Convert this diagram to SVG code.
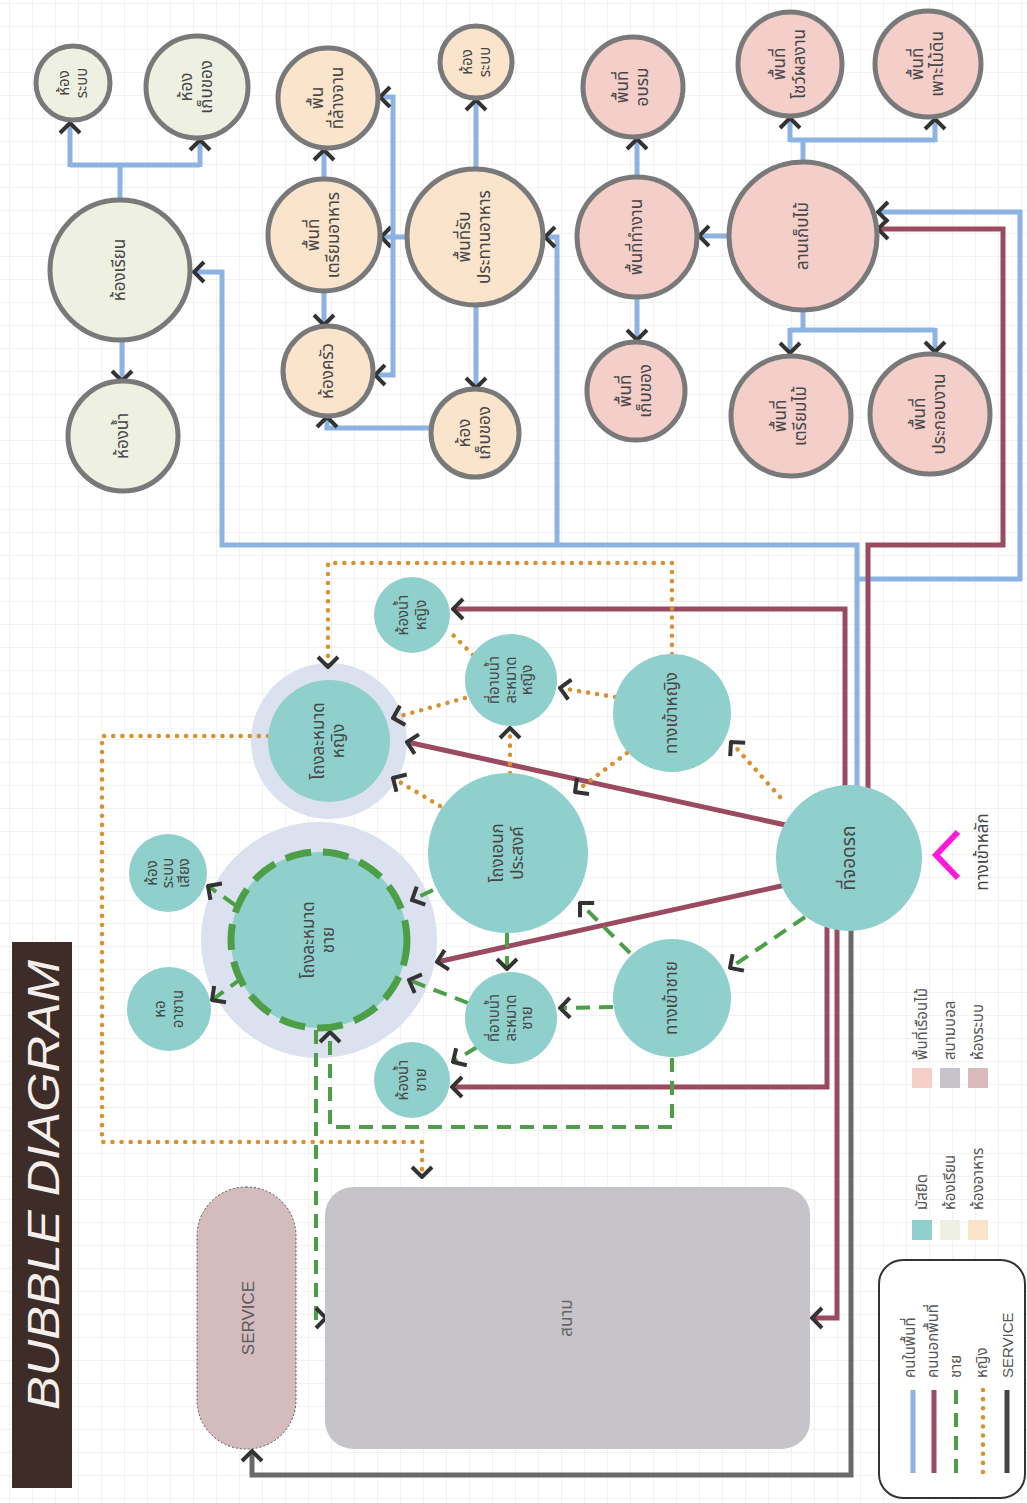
<svg xmlns="http://www.w3.org/2000/svg" width="1027" height="1503" viewBox="0 0 1027 1503">
  <style>
    .lbl { font-family: "Noto Sans Thai", "Noto Sans", "DejaVu Sans", sans-serif; font-size: 17px; fill: #474747; text-anchor: middle; dominant-baseline: central; }
    .sm { font-size: 15px; }
    .lg { font-family: "Noto Sans Thai", "Noto Sans", "DejaVu Sans", sans-serif; font-size: 15px; fill: #555; text-anchor: start; dominant-baseline: central; }
    .n-green { fill: #eef1e2; stroke: #797979; stroke-width: 5; }
    .n-food { fill: #fbe4cc; stroke: #797979; stroke-width: 5; }
    .n-wood { fill: #f4cfca; stroke: #797979; stroke-width: 5; }
    .n-mosque { fill: #8fcfcc; }
    .halo { fill: #dce1f0; }
    .c { fill: none; stroke-linejoin: miter; }
    .c-in { stroke: #8db3e2; stroke-width: 5; }
    .c-out { stroke: #9b4b61; stroke-width: 5; }
    .c-m { stroke: #4c9f46; stroke-width: 4; stroke-dasharray: 14 9; }
    .c-f { stroke: #d9902e; stroke-width: 4.5; stroke-dasharray: 0.1 9; stroke-linecap: round; }
    .c-s { stroke: #6a6a6a; stroke-width: 5; }
    .arr { marker-end: url(#ah); }
  </style>
  <defs>
    <pattern id="grid" width="23" height="23" patternUnits="userSpaceOnUse" patternTransform="translate(9,3)">
      <path d="M23 0 L0 0 0 23" fill="none" stroke="#e6e6e6" stroke-width="1"/>
    </pattern>
    <marker id="ah" viewBox="0 0 14 24" refX="12" refY="12" markerWidth="14" markerHeight="24" markerUnits="userSpaceOnUse" orient="auto">
      <path d="M2,2 L12,12 L2,22" fill="none" stroke="#333" stroke-width="4"/>
    </marker>
  </defs>

  <rect width="1027" height="1503" fill="#ffffff"/>
  <rect width="1027" height="1503" fill="url(#grid)"/>

  <!-- title bar -->
  <g id="title">
    <rect x="12" y="942" width="60" height="546" fill="#3e2c29"/>
    <text transform="translate(43,1185) rotate(-90)" font-family="Liberation Sans, sans-serif" font-style="italic" font-size="44" fill="#f4efea" text-anchor="middle" dominant-baseline="central" textLength="450" lengthAdjust="spacingAndGlyphs">BUBBLE DIAGRAM</text>
  </g>

  <!-- halos behind prayer halls -->
  <circle class="halo" cx="329" cy="741" r="78"/>
  <circle class="halo" cx="319" cy="940" r="118"/>

  <!-- connectors -->
  <g id="connectors">
    <!-- insiders (blue) -->
    <path class="c c-in arr" d="M857 790 L857 545 L222 545 L222 272 L194 272"/>
    <path class="c c-in arr" d="M557 545 L557 237 L545 237"/>
    <path class="c c-in arr" d="M857 579 L1020 579 L1020 212 L878 212"/>
    <path class="c c-in" d="M120 200 L120 165 M70 165 L200 165"/>
    <path class="c c-in arr" d="M70 167 L70 123"/>
    <path class="c c-in arr" d="M200 167 L200 140"/>
    <path class="c c-in arr" d="M122 340 L122 381"/>
    <path class="c c-in arr" d="M407 237 L381 237"/>
    <path class="c c-in arr" d="M393 237 L393 97 L380 97"/>
    <path class="c c-in arr" d="M393 237 L393 375 L375 375"/>
    <path class="c c-in arr" d="M324 179 L324 150"/>
    <path class="c c-in arr" d="M324 291 L324 325"/>
    <path class="c c-in arr" d="M476 170 L476 100"/>
    <path class="c c-in arr" d="M476 305 L476 388"/>
    <path class="c c-in arr" d="M432 428 L327 428 L327 417"/>
    <path class="c c-in" d="M803 162 L803 140 M790 140 L935 140"/>
    <path class="c c-in arr" d="M790 142 L790 118"/>
    <path class="c c-in arr" d="M935 142 L935 119"/>
    <path class="c c-in arr" d="M730 236 L699 236"/>
    <path class="c c-in arr" d="M637 178 L637 139"/>
    <path class="c c-in arr" d="M637 297 L637 340"/>
    <path class="c c-in" d="M803 310 L803 330 M790 330 L935 330"/>
    <path class="c c-in arr" d="M790 328 L790 353"/>
    <path class="c c-in arr" d="M935 328 L935 352"/>

    <!-- outsiders (maroon) -->
    <path class="c c-out arr" d="M790 826 L407 742"/>
    <path class="c c-out arr" d="M790 884 L437 962"/>
    <path class="c c-out arr" d="M827 920 L827 1087 L452 1087"/>
    <path class="c c-out arr" d="M837 925 L837 1318 L812 1318"/>
    <path class="c c-out arr" d="M868 790 L868 545 L1003 545 L1003 229 L878 229"/>
    <path class="c c-out arr" d="M845 790 L845 609 L453 609"/>

    <!-- service -->
    <path class="c c-s arr" d="M851 930 L851 1475 L252 1475 L252 1451"/>

    <!-- men (green dashed) -->
    <path class="c c-m arr" d="M805 917 L730 968"/>
    <path class="c c-m arr" d="M630 953 L580 903"/>
    <path class="c c-m arr" d="M613 1007 L560 1008"/>
    <path class="c c-m arr" d="M477 1047 L453 1062"/>
    <path class="c c-m arr" d="M468 1003 L409 980"/>
    <path class="c c-m arr" d="M507 933 L507 969"/>
    <path class="c c-m arr" d="M433 890 L412 900"/>
    <path class="c c-m arr" d="M242 978 L212 1000"/>
    <path class="c c-m arr" d="M235 905 L208 886"/>
    <path class="c c-m arr" d="M672 1058 L672 1127 L330 1127 L330 1032"/>
    <path class="c c-m arr" d="M316 1030 L316 1318 L326 1318"/>

    <!-- women (orange dotted) -->
    <path class="c c-f arr" d="M780 797 L731 742"/>
    <path class="c c-f arr" d="M615 697 L560 688"/>
    <path class="c c-f arr" d="M627 753 L575 792"/>
    <path class="c c-f" d="M473 655 L450 632"/>
    <path class="c c-f arr" d="M465 698 L393 718"/>
    <path class="c c-f arr" d="M510 773 L510 728"/>
    <path class="c c-f arr" d="M440 806 L393 778"/>
    <path class="c c-f arr" d="M672 654 L672 563 L328 563 L328 667"/>
    <path class="c c-f arr" d="M268 736 L102 736 L102 1142 L422 1142 L422 1177"/>
  </g>

  <!-- classroom zone -->
  <g id="n-sys1"><circle class="n-green" cx="73" cy="83" r="37"/>
    <text class="lbl sm" transform="translate(73,83) rotate(-90)"><tspan x="0" y="-9">ห้อง</tspan><tspan x="0" y="9">ระบบ</tspan></text></g>
  <g id="n-store1"><circle class="n-green" cx="197" cy="87" r="51"/>
    <text class="lbl" transform="translate(197,87) rotate(-90)"><tspan x="0" y="-10">ห้อง</tspan><tspan x="0" y="10">เก็บของ</tspan></text></g>
  <g id="n-class"><circle class="n-green" cx="120" cy="270" r="70"/>
    <text class="lbl" transform="translate(120,270) rotate(-90)">ห้องเรียน</text></g>
  <g id="n-wc"><circle class="n-green" cx="123" cy="436" r="55"/>
    <text class="lbl" transform="translate(123,436) rotate(-90)">ห้องน้ำ</text></g>

  <!-- food zone -->
  <g id="n-wash"><circle class="n-food" cx="328" cy="98" r="50"/>
    <text class="lbl" transform="translate(328,98) rotate(-90)"><tspan x="0" y="-10">พื้น</tspan><tspan x="0" y="10">ที่ล้างจาน</tspan></text></g>
  <g id="n-prep"><circle class="n-food" cx="324" cy="235" r="56"/>
    <text class="lbl" transform="translate(324,235) rotate(-90)"><tspan x="0" y="-10">พื้นที่</tspan><tspan x="0" y="10">เตรียมอาหาร</tspan></text></g>
  <g id="n-kitchen"><circle class="n-food" cx="328" cy="371" r="45"/>
    <text class="lbl" transform="translate(328,371) rotate(-90)">ห้องครัว</text></g>
  <g id="n-sys2"><circle class="n-food" cx="476" cy="62" r="36"/>
    <text class="lbl sm" transform="translate(476,62) rotate(-90)"><tspan x="0" y="-9">ห้อง</tspan><tspan x="0" y="9">ระบบ</tspan></text></g>
  <g id="n-dining"><circle class="n-food" cx="475" cy="237" r="68"/>
    <text class="lbl" transform="translate(475,237) rotate(-90)"><tspan x="0" y="-10">พื้นที่รับ</tspan><tspan x="0" y="10">ประทานอาหาร</tspan></text></g>
  <g id="n-store2"><circle class="n-food" cx="475" cy="433" r="44"/>
    <text class="lbl" transform="translate(475,433) rotate(-90)"><tspan x="0" y="-10">ห้อง</tspan><tspan x="0" y="10">เก็บของ</tspan></text></g>

  <!-- wood workshop zone -->
  <g id="n-train"><circle class="n-wood" cx="633" cy="87" r="50"/>
    <text class="lbl" transform="translate(633,87) rotate(-90)"><tspan x="0" y="-10">พื้นที่</tspan><tspan x="0" y="10">อบรม</tspan></text></g>
  <g id="n-show"><circle class="n-wood" cx="790" cy="64" r="52"/>
    <text class="lbl" transform="translate(790,64) rotate(-90)"><tspan x="0" y="-10">พื้นที่</tspan><tspan x="0" y="10">โชว์ผลงาน</tspan></text></g>
  <g id="n-nursery"><circle class="n-wood" cx="928" cy="64" r="53"/>
    <text class="lbl" transform="translate(928,64) rotate(-90)"><tspan x="0" y="-10">พื้นที่</tspan><tspan x="0" y="10">เพาะไม้ดิน</tspan></text></g>
  <g id="n-work"><circle class="n-wood" cx="637" cy="237" r="60"/>
    <text class="lbl" transform="translate(637,237) rotate(-90)">พื้นที่ทำงาน</text></g>
  <g id="n-yard"><circle class="n-wood" cx="803" cy="236" r="74"/>
    <text class="lbl" transform="translate(803,236) rotate(-90)">ลานเก็บไม้</text></g>
  <g id="n-store3"><circle class="n-wood" cx="636" cy="391" r="49"/>
    <text class="lbl" transform="translate(636,391) rotate(-90)"><tspan x="0" y="-10">พื้นที่</tspan><tspan x="0" y="10">เก็บของ</tspan></text></g>
  <g id="n-woodprep"><circle class="n-wood" cx="791" cy="416" r="60"/>
    <text class="lbl" transform="translate(791,416) rotate(-90)"><tspan x="0" y="-10">พื้นที่</tspan><tspan x="0" y="10">เตรียมไม้</tspan></text></g>
  <g id="n-assembly"><circle class="n-wood" cx="930" cy="414" r="60"/>
    <text class="lbl" transform="translate(930,414) rotate(-90)"><tspan x="0" y="-10">พื้นที่</tspan><tspan x="0" y="10">ประกอบงาน</tspan></text></g>

  <!-- mosque zone -->
  <g id="n-parking"><circle class="n-mosque" cx="849" cy="858" r="73"/>
    <text class="lbl" style="font-size:19px" transform="translate(849,858) rotate(-90)">ที่จอดรถ</text></g>
  <g id="n-main-entry">
    <path d="M958 832 L936 855 L958 878" fill="none" stroke="#ff1ad9" stroke-width="6"/>
    <text class="lbl" transform="translate(983,852) rotate(-90)">ทางเข้าหลัก</text></g>
  <g id="n-entry-f"><circle class="n-mosque" cx="672" cy="713" r="59"/>
    <text class="lbl" transform="translate(672,713) rotate(-90)">ทางเข้าหญิง</text></g>
  <g id="n-ablution-f"><circle class="n-mosque" cx="511" cy="680" r="46"/>
    <text class="lbl sm" transform="translate(511,680) rotate(-90)"><tspan x="0" y="-17">ที่อาบน้ำ</tspan><tspan x="0" y="0">ละหมาด</tspan><tspan x="0" y="16">หญิง</tspan></text></g>
  <g id="n-wc-f"><circle class="n-mosque" cx="412" cy="615" r="38"/>
    <text class="lbl sm" transform="translate(412,615) rotate(-90)"><tspan x="0" y="-9">ห้องน้ำ</tspan><tspan x="0" y="9">หญิง</tspan></text></g>
  <g id="n-hall-f"><circle class="n-mosque" cx="329" cy="741" r="61"/>
    <text class="lbl" transform="translate(329,741) rotate(-90)"><tspan x="0" y="-10">โถงละหมาด</tspan><tspan x="0" y="10">หญิง</tspan></text></g>
  <g id="n-multi"><circle class="n-mosque" cx="508" cy="853" r="80"/>
    <text class="lbl" transform="translate(508,853) rotate(-90)"><tspan x="0" y="-10">โถงเอนก</tspan><tspan x="0" y="10">ประสงค์</tspan></text></g>
  <g id="n-hall-m"><circle class="n-mosque" cx="319" cy="940" r="88"/>
    <circle cx="319" cy="940" r="88" fill="none" stroke="#4c9f46" stroke-width="7" stroke-dasharray="26 12"/>
    <text class="lbl" transform="translate(319,940) rotate(-90)"><tspan x="0" y="-10">โถงละหมาด</tspan><tspan x="0" y="10">ชาย</tspan></text></g>
  <g id="n-azan"><circle class="n-mosque" cx="169" cy="1009" r="42"/>
    <text class="lbl sm" transform="translate(169,1009) rotate(-90)"><tspan x="0" y="-9">หอ</tspan><tspan x="0" y="9">อาซาน</tspan></text></g>
  <g id="n-sound"><circle class="n-mosque" cx="168" cy="873" r="39"/>
    <text class="lbl sm" transform="translate(168,873) rotate(-90)"><tspan x="0" y="-16">ห้อง</tspan><tspan x="0" y="0">ระบบ</tspan><tspan x="0" y="16">เสียง</tspan></text></g>
  <g id="n-entry-m"><circle class="n-mosque" cx="672" cy="998" r="59"/>
    <text class="lbl" transform="translate(672,998) rotate(-90)">ทางเข้าชาย</text></g>
  <g id="n-ablution-m"><circle class="n-mosque" cx="511" cy="1018" r="46"/>
    <text class="lbl sm" transform="translate(511,1018) rotate(-90)"><tspan x="0" y="-17">ที่อาบน้ำ</tspan><tspan x="0" y="0">ละหมาด</tspan><tspan x="0" y="16">ชาย</tspan></text></g>
  <g id="n-wc-m"><circle class="n-mosque" cx="412" cy="1080" r="38"/>
    <text class="lbl sm" transform="translate(412,1080) rotate(-90)"><tspan x="0" y="-9">ห้องน้ำ</tspan><tspan x="0" y="9">ชาย</tspan></text></g>

  <!-- service and field -->
  <g id="n-service">
    <rect x="197" y="1187" width="99" height="262" rx="49" fill="#d4bcbe" stroke="#555" stroke-width="1" stroke-dasharray="2 2"/>
    <text class="lbl" style="fill:#5a5a5a;font-family:'Liberation Sans',sans-serif" transform="translate(248,1318) rotate(-90)">SERVICE</text></g>
  <g id="n-field">
    <rect x="325" y="1187" width="485" height="262" rx="28" fill="#c6c4c9"/>
    <text class="lbl" style="fill:#666" transform="translate(567,1318) rotate(-90)">สนาม</text></g>

  <!-- legend -->
  <g id="legend">
    <rect x="879" y="1260" width="146" height="238" rx="24" fill="#ffffff" stroke="#333" stroke-width="2"/>
    <line x1="913" y1="1390" x2="913" y2="1473" class="c c-in"/>
    <line x1="934" y1="1390" x2="934" y2="1473" class="c c-out"/>
    <line x1="956" y1="1390" x2="956" y2="1473" class="c c-m"/>
    <line x1="983" y1="1390" x2="983" y2="1473" class="c c-f"/>
    <line x1="1007" y1="1390" x2="1007" y2="1473" stroke="#444" stroke-width="5"/>
    <text class="lg" transform="translate(910,1378) rotate(-90)">คนในพื้นที่</text>
    <text class="lg" transform="translate(933,1378) rotate(-90)">คนนอกพื้นที่</text>
    <text class="lg" transform="translate(956,1378) rotate(-90)">ชาย</text>
    <text class="lg" transform="translate(982,1378) rotate(-90)">หญิง</text>
    <text class="lg" style="font-family:'Liberation Sans',sans-serif" transform="translate(1007,1378) rotate(-90)">SERVICE</text>

    <rect x="912" y="1220" width="20" height="20" fill="#8fcfcc"/>
    <rect x="940" y="1220" width="20" height="20" fill="#eef1e2"/>
    <rect x="968" y="1220" width="20" height="20" fill="#fbe3c8"/>
    <text class="lg" transform="translate(922,1210) rotate(-90)">มัสยิด</text>
    <text class="lg" transform="translate(950,1210) rotate(-90)">ห้องเรียน</text>
    <text class="lg" transform="translate(978,1210) rotate(-90)">ห้องอาหาร</text>

    <rect x="912" y="1068" width="20" height="20" fill="#f5cfca"/>
    <rect x="940" y="1068" width="20" height="20" fill="#c6c4ca"/>
    <rect x="968" y="1068" width="20" height="20" fill="#d8b9bc"/>
    <text class="lg" transform="translate(922,1060) rotate(-90)">พื้นที่เรือนไม้</text>
    <text class="lg" transform="translate(950,1060) rotate(-90)">สนามบอล</text>
    <text class="lg" transform="translate(978,1060) rotate(-90)">ห้องระบบ</text>
  </g>
</svg>
